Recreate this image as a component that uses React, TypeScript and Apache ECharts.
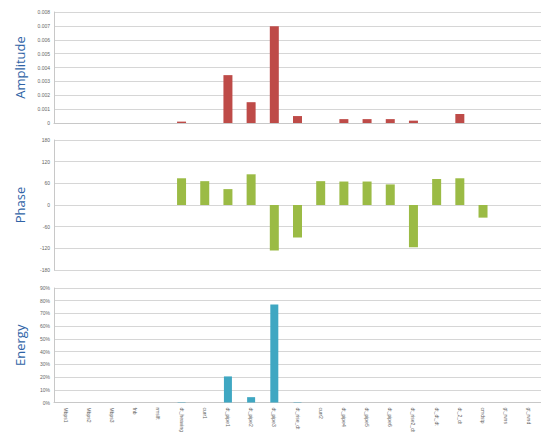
import React, { useEffect, useRef } from "react";
import * as echarts from "echarts";

const categories = [
  "Mbps1", "Mbps2", "Mbps3", "fnb", "rmslft", "dt_heaving", "curr1",
  "dt_pipe1", "dt_pipe2", "dt_pipe3", "dt_rise_dt", "curr2", "dt_pipe4",
  "dt_pipe5", "dt_pipe6", "dt_rise2_dt", "dt_dt_dt", "dt_2_dt", "cmdstp",
  "gt_rvns", "gt_rvnd",
];
const amplitude = [
  0, 0, 0, 0, 0, 0.0001, 0, 0.00345, 0.0015, 0.00698, 0.0005, 0, 0.00028,
  0.00028, 0.00028, 0.00017, 0, 0.00065, 0, 0, 0,
];
const phase = [
  null, null, null, null, null, 74, 66, 44, 85, -126, -90, 66, 65, 65, 57,
  -117, 72, 74, -35, null, null,
];
const energy = [
  0, 0, 0, 0, 0, 0.3, 0, 20.5, 4.2, 77, 0.3, 0, 0, 0, 0, 0, 0, 0, 0, 0, 0,
];
const amplitudeTicks = ["0", "0.001", "0.002", "0.003", "0.004", "0.005", "0.006", "0.007", "0.008"];

export default function App() {
  const ref = useRef<HTMLDivElement>(null);
  useEffect(() => {
    if (!ref.current) return;
    const chart = echarts.init(ref.current, null, { renderer: "svg" });
    const gridLine = { lineStyle: { color: "#d6d6d6", width: 1 } };
    const yLabel = { fontSize: 5, color: "#666", margin: 4, fontFamily: "Liberation Sans" };
    const axisLine = { show: true, lineStyle: { color: "#c8c8c8" } };
    const nameStyle = { fontSize: 13, color: "#2f63a6", fontFamily: "Open Sans" };
    const grids = [
      { left: 54, right: -5, top: 12, height: 111 },
      { left: 54, right: -5, top: 140, height: 130 },
      { left: 54, right: -5, top: 288, height: 114.5 },
    ];
    chart.setOption({
      animation: false,
      grid: grids,
      xAxis: [0, 1, 2].map((i) => ({
        type: "category",
        gridIndex: i,
        data: categories,
        axisTick: { show: false },
        axisLine: { show: i !== 1, onZero: true, lineStyle: { color: "#c8c8c8" } },
        axisLabel:
          i === 2
            ? { show: true, rotate: -90, fontSize: 5, color: "#666", margin: 5, interval: 0, fontFamily: "Liberation Sans" }
            : { show: false },
      })),
      yAxis: [
        {
          type: "value",
          gridIndex: 0,
          min: 0,
          max: 0.008,
          interval: 0.001,
          name: "Amplitude",
          nameLocation: "middle",
          nameGap: 28,
          nameTextStyle: nameStyle,
          axisLine,
          splitLine: gridLine,
          axisLabel: {
            ...yLabel,
            formatter: (v: number) => amplitudeTicks[Math.round(v * 1000)] ?? String(v),
          },
        },
        {
          type: "value",
          gridIndex: 1,
          min: -180,
          max: 180,
          interval: 60,
          name: "Phase",
          nameLocation: "middle",
          nameGap: 28,
          nameTextStyle: nameStyle,
          axisLine,
          splitLine: gridLine,
          axisLabel: yLabel,
        },
        {
          type: "value",
          gridIndex: 2,
          min: 0,
          max: 90,
          interval: 10,
          name: "Energy",
          nameLocation: "middle",
          nameGap: 28,
          nameTextStyle: nameStyle,
          axisLine,
          splitLine: gridLine,
          axisLabel: { ...yLabel, formatter: "{value}%" },
        },
      ],
      series: [
        {
          type: "bar",
          xAxisIndex: 0,
          yAxisIndex: 0,
          data: amplitude,
          barWidth: 9,
          itemStyle: { color: "#be4b48" },
        },
        {
          type: "bar",
          xAxisIndex: 1,
          yAxisIndex: 1,
          data: phase,
          barWidth: 9,
          itemStyle: { color: "#9bbb45" },
        },
        {
          type: "bar",
          xAxisIndex: 2,
          yAxisIndex: 2,
          data: energy,
          barWidth: 8,
          itemStyle: { color: "#3fa7c2" },
        },
      ],
    });
    return () => chart.dispose();
  }, []);
  return (
    <div
      ref={ref}
      style={{ position: "fixed", left: 0, top: 0, width: 541, height: 438, background: "#fff" }}
    />
  );
}
